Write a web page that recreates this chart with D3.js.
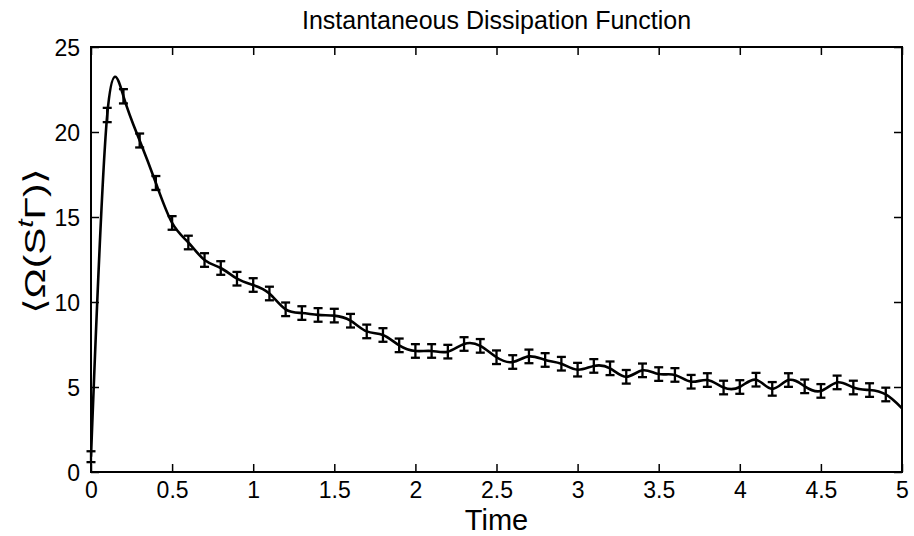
<!DOCTYPE html>
<html>
<head>
<meta charset="utf-8">
<script src="https://cdn.jsdelivr.net/npm/d3@7"></script>
<style>
  html, body { margin: 0; padding: 0; background: #fff; }
  svg { display: block; }
  text { font-family: "Liberation Sans", Arial, Helvetica, sans-serif; fill: #000; }
</style>
</head>
<body>
<svg id="chart" width="914" height="536"></svg>
<script>
// ---- data ----
const times = [0.0, 0.1, 0.2, 0.3, 0.4, 0.5, 0.6, 0.7, 0.8, 0.9,
               1.0, 1.1, 1.2, 1.3, 1.4, 1.5, 1.6, 1.7, 1.8, 1.9,
               2.0, 2.1, 2.2, 2.3, 2.4, 2.5, 2.6, 2.7, 2.8, 2.9,
               3.0, 3.1, 3.2, 3.3, 3.4, 3.5, 3.6, 3.7, 3.8, 3.9,
               4.0, 4.1, 4.2, 4.3, 4.4, 4.5, 4.6, 4.7, 4.8, 4.9];
const omega = [0.9, 21.0, 22.1, 19.5, 17.0, 14.65, 13.5, 12.47, 12.0, 11.37,
               11.0, 10.5, 9.57, 9.35, 9.24, 9.2, 8.9, 8.27, 8.06, 7.45,
               7.12, 7.12, 7.08, 7.53, 7.42, 6.75, 6.47, 6.8, 6.59, 6.37,
               6.02, 6.24, 6.1, 5.6, 5.98, 5.76, 5.71, 5.31, 5.41, 4.97,
               5.0, 5.43, 4.89, 5.41, 5.04, 4.77, 5.27, 4.97, 4.82, 4.56];
const omegaErr = [0.32, 0.42, 0.42, 0.41, 0.41, 0.4, 0.4, 0.4, 0.4, 0.4,
                  0.4, 0.4, 0.4, 0.4, 0.4, 0.4, 0.4, 0.4, 0.4, 0.4,
                  0.4, 0.4, 0.4, 0.4, 0.4, 0.4, 0.4, 0.4, 0.4, 0.4,
                  0.4, 0.4, 0.4, 0.4, 0.4, 0.4, 0.4, 0.4, 0.4, 0.4,
                  0.4, 0.4, 0.4, 0.4, 0.4, 0.4, 0.4, 0.4, 0.4, 0.4];
// smooth curve continues to the right edge
const endTime = [5.0];
const endOmega = [3.75];

const xTicks = [0, 0.5, 1, 1.5, 2, 2.5, 3, 3.5, 4, 4.5, 5];
const xTickLabels = ["0", "0.5", "1", "1.5", "2", "2.5", "3", "3.5", "4", "4.5", "5"];
const yTicks = [0, 5, 10, 15, 20, 25];
const yTickLabels = ["0", "5", "10", "15", "20", "25"];

const titleText = "Instantaneous Dissipation Function";
const xLabelText = "Time";

// ---- layout ----
const svg = d3.select("#chart");
const mLeft = 91, mRight = 902, mTop = 47, mBottom = 472;

const x = d3.scaleLinear().domain([0, 5]).range([mLeft, mRight]);
const y = d3.scaleLinear().domain([0, 25]).range([mBottom, mTop]);

const tickLen = 8;

const axB = d3.axisBottom(x).tickValues(xTicks).tickSize(-tickLen).tickFormat((d, i) => xTickLabels[i]).tickPadding(10);
const axT = d3.axisTop(x).tickValues(xTicks).tickSize(-tickLen).tickFormat("");
const axL = d3.axisLeft(y).tickValues(yTicks).tickSize(-tickLen).tickFormat((d, i) => yTickLabels[i]).tickPadding(11);
const axR = d3.axisRight(y).tickValues(yTicks).tickSize(-tickLen).tickFormat("");

function styleAxis(g) {
  g.select(".domain").remove();
  g.selectAll(".tick line").attr("stroke", "#000").attr("stroke-width", 1.5);
  g.selectAll(".tick text").attr("font-size", 23).attr("fill", "#000")
    .style("font-family", '"Liberation Sans", Arial, sans-serif');
}
svg.append("g").attr("transform", `translate(0,${mBottom})`).call(axB).call(styleAxis)
  .selectAll(".tick text").attr("dy", "0.71em");
svg.append("g").attr("transform", `translate(0,${mTop})`).call(axT).call(styleAxis);
svg.append("g").attr("transform", `translate(${mLeft},0)`).call(axL).call(styleAxis)
  .selectAll(".tick text").attr("dy", "0.36em");
svg.append("g").attr("transform", `translate(${mRight},0)`).call(axR).call(styleAxis);

svg.append("rect")
  .attr("x", mLeft).attr("y", mTop)
  .attr("width", mRight - mLeft).attr("height", mBottom - mTop)
  .attr("fill", "none").attr("stroke", "#000").attr("stroke-width", 2);

const pts = times.map((t, i) => ({ t, v: omega[i], e: omegaErr[i] }));
const curvePts = pts.concat(endTime.map((t, i) => ({ t, v: endOmega[i] })));

svg.append("clipPath").attr("id", "plotclip")
  .append("rect").attr("x", mLeft).attr("y", mTop - 10).attr("width", mRight - mLeft).attr("height", mBottom - mTop + 10);

const line = d3.line().x(d => x(d.t)).y(d => y(d.v)).curve(d3.curveNatural);
svg.append("path")
  .datum(curvePts)
  .attr("d", line)
  .attr("fill", "none")
  .attr("stroke", "#000")
  .attr("stroke-width", 2.6)
  .attr("clip-path", "url(#plotclip)");

const capW = 4.5;
const eb = svg.append("g").attr("stroke", "#000").attr("stroke-width", 2.3);
pts.forEach(d => {
  const cx = x(d.t), y1 = y(d.v - d.e), y2 = y(d.v + d.e);
  eb.append("line").attr("x1", cx).attr("x2", cx).attr("y1", y1).attr("y2", y2);
  eb.append("line").attr("x1", cx - capW).attr("x2", cx + capW).attr("y1", y1).attr("y2", y1);
  eb.append("line").attr("x1", cx - capW).attr("x2", cx + capW).attr("y1", y2).attr("y2", y2);
});

svg.append("text")
  .attr("x", (mLeft + mRight) / 2).attr("y", 29)
  .attr("text-anchor", "middle").attr("font-size", 25)
  .text(titleText);

svg.append("text")
  .attr("x", (mLeft + mRight) / 2).attr("y", 530)
  .attr("text-anchor", "middle").attr("font-size", 29)
  .text(xLabelText);

const yl = svg.append("text")
  .attr("transform", `translate(45,241) rotate(-90) scale(1.35,1)`)
  .attr("text-anchor", "middle").attr("font-size", 30);
yl.append("tspan").text("\u27E8\u03A9(S");
yl.append("tspan").attr("dy", -12).attr("font-size", 22).attr("font-style", "italic").text("t");
yl.append("tspan").attr("dy", 12).text("\u0393)\u27E9");
</script>
</body>
</html>
